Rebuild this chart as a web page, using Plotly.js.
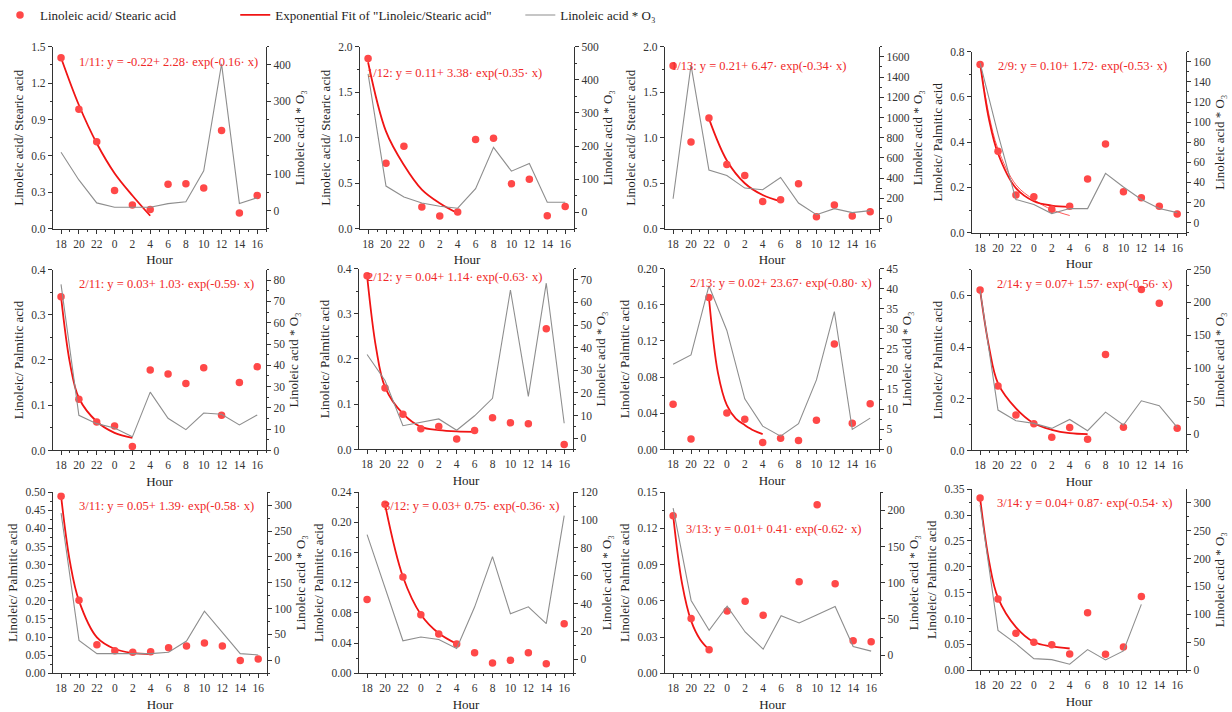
<!DOCTYPE html>
<html><head><meta charset="utf-8">
<script src="https://cdn.plot.ly/plotly-3.0.1.min.js"></script>
<style>html,body{margin:0;padding:0;background:#fff}#chart{width:1232px;height:712px}</style>
</head><body><div id="chart"></div>
<script>
// ---------------- DATA ----------------
const hours = ['18','20','22','0','2','4','6','8','10','12','14','16'];
const dates = ['1/11','1/12','1/13','2/9','2/11','2/12','2/13','2/14','3/11','3/12','3/13','3/14'];
const fitEquations = [
 '1/11: y = -0.22+ 2.28· exp(-0.16· x)',
 '1/12: y = 0.11+ 3.38· exp(-0.35· x)',
 '1/13: y = 0.21+ 6.47· exp(-0.34· x)',
 '2/9: y = 0.10+ 1.72· exp(-0.53· x)',
 '2/11: y = 0.03+ 1.03· exp(-0.59· x)',
 '2/12: y = 0.04+ 1.14· exp(-0.63· x)',
 '2/13: y = 0.02+ 23.67· exp(-0.80· x)',
 '2/14: y = 0.07+ 1.57· exp(-0.56· x)',
 '3/11: y = 0.05+ 1.39· exp(-0.58· x)',
 '3/12: y = 0.03+ 0.75· exp(-0.36· x)',
 '3/13: y = 0.01+ 0.41· exp(-0.62· x)',
 '3/14: y = 0.04+ 0.87· exp(-0.54· x)'
];
const leftTitles = ['Linoleic acid/ Stearic acid','Linoleic acid/ Stearic acid','Linoleic acid/ Stearic acid',
 'Linoleic/ Palmitic acid','Linoleic/ Palmitic acid','Linoleic/ Palmitic acid','Linoleic/ Palmitic acid',
 'Linoleic/ Palmitic acid','Linoleic/ Palmitic acid','Linoleic/ Palmitic acid','Linoleic/ Palmitic acid','Linoleic/ Palmitic acid'];
const rightTitle = 'Linoleic acid * O₃';
const xTitle = 'Hour';
const legendNames = ['Linoleic acid/ Stearic acid','Exponential Fit of "Linoleic/Stearic acid"','Linoleic acid * O₃'];

// ratio (left axis) and Linoleic acid * O3 (right axis), one value per hour
const ratio_0111 = [1.41,0.984,0.718,0.315,0.195,0.159,0.367,0.37,0.335,0.809,0.129,0.274];
const o3_0111    = [160,84,21,9,9,9,19,24,109,403,19,35];
const ratio_0112 = [1.87,0.72,0.907,0.238,0.139,0.183,0.98,0.995,0.494,0.545,0.143,0.245];
const o3_0112    = [418,79,46,28,18,12,71,196,124,147,30,30];
const ratio_0113 = [1.79,0.954,1.218,0.706,0.585,0.30,0.318,0.494,0.132,0.26,0.139,0.186];
const o3_0113    = [197,1518,480,427,302,286,407,154,39,99,59,79];
const ratio_0209 = [0.744,0.36,0.167,0.159,0.104,0.117,0.237,0.392,0.181,0.155,0.117,0.083];
const o3_0209    = [159,88,23,18,9,14,14,49,35.5,23,14,10];
const ratio_0211 = [0.34,0.1135,0.063,0.054,0.0088,0.178,0.169,0.148,0.183,0.078,0.15,0.185];
const o3_0211    = [78,16.5,12.6,10.6,6.4,27.4,15.1,9.8,17.6,17,12,16.7];
const ratio_0212 = [0.384,0.136,0.078,0.046,0.051,0.023,0.042,0.070,0.059,0.057,0.267,0.011];
const o3_0212    = [37,25.5,5.5,6.9,8.5,3.5,9.9,17.6,65.5,18.5,68.5,6.6];
const ratio_0213 = [0.0499,0.0117,0.168,0.0404,0.0334,0.0077,0.0125,0.0099,0.0323,0.1167,0.029,0.0506];
const o3_0213    = [21.2,23.5,40.7,29.6,12.6,5.8,3.3,6.4,17.3,34.3,5,7.8];
const ratio_0214 = [0.621,0.249,0.1375,0.103,0.051,0.0887,0.0437,0.371,0.09,0.623,0.569,0.086];
const o3_0214    = [218.7,36.4,20.2,16.2,8.6,22.2,5,33.3,13.6,50.5,43,10];
const ratio_0311 = [0.489,0.2015,0.0788,0.0623,0.0577,0.0595,0.0705,0.075,0.0833,0.075,0.0348,0.0394];
const o3_0311    = [284.6,38.5,12.8,12.8,12.8,12.8,15.4,37.3,95,53.3,12.8,10.3];
const ratio_0312 = [0.0976,0.2242,0.1275,0.0774,0.0519,0.0387,0.0273,0.0136,0.0171,0.0273,0.0127,0.0655];
const o3_0312    = [89.6,51.7,13.3,16,14.2,7.8,37.5,73.8,32.7,37.7,25.6,103.2];
const ratio_0313 = [0.1305,0.0453,0.0195,0.0516,0.0596,0.0481,null,0.0758,0.1396,0.0742,0.0269,0.0261];
const o3_0313    = [203,75.5,34.3,67.7,32,8.2,54.5,44.4,55.8,67.3,11.9,5.5];
const ratio_0314 = [0.3333,0.138,0.0713,0.054,0.0495,0.0315,0.111,0.0308,0.045,0.1426,null,null];
const o3_0314    = [296,71.4,47.6,20.8,19,10.7,36.9,18.5,34.5,117.9,null,null];

// exponential fit curves: position along the hour axis (index into hours) and value
const fitPos_0111 = [0,1,2,3,4,5];            const fit_0111 = [1.41,1.02,0.705,0.458,0.274,0.107];
const fitPos_0112 = [0,1,2,3,4,5];            const fit_0112 = [1.83,1.07,0.70,0.43,0.28,0.17];
const fitPos_0113 = [2,3,4,5,6];              const fit_0113 = [1.21,0.75,0.50,0.37,0.30];
const fitPos_0209 = [0,0.5,1,2,3,4,5];        const fit_0209 = [0.75,0.50,0.35,0.197,0.139,0.12,0.114];
const fitPos_0209b = [0,0.5,1,2,3,4,5];       const fit_0209b = [0.75,0.52,0.37,0.212,0.146,0.102,0.076];
const fitPos_0211 = [0,0.5,1,2,3,4];          const fit_0211 = [0.34,0.193,0.116,0.064,0.039,0.028];
const fitPos_0212 = [0,0.5,1,2,3,4,5,6];      const fit_0212 = [0.384,0.225,0.138,0.079,0.05,0.043,0.040,0.039];
const fitPos_0213 = [2,2.5,3,3.5,4,4.5,5];    const fit_0213 = [0.168,0.085,0.049,0.034,0.027,0.021,0.017];
const fitPos_0214 = [0,0.5,1,2,3,4,5,6];      const fit_0214 = [0.62,0.40,0.26,0.163,0.105,0.08,0.067,0.063];
const fitPos_0311 = [0,0.5,1,2,3,4,5];        const fit_0311 = [0.489,0.306,0.20,0.099,0.067,0.056,0.053];
const fitPos_0312 = [1,2,3,4,5];              const fit_0312 = [0.224,0.128,0.078,0.053,0.039];
const fitPos_0313 = [0,0.5,1,1.5,2];          const fit_0313 = [0.131,0.074,0.0434,0.028,0.0195];
const fitPos_0314 = [0,0.5,1,2,3,4,5];        const fit_0314 = [0.333,0.211,0.14,0.0835,0.0546,0.046,0.042];

// ---------------- PRESENTATION ----------------
const panels = [
 {r:ratio_0111,o:o3_0111,fx:fitPos_0111,fy:fit_0111},
 {r:ratio_0112,o:o3_0112,fx:fitPos_0112,fy:fit_0112},
 {r:ratio_0113,o:o3_0113,fx:fitPos_0113,fy:fit_0113},
 {r:ratio_0209,o:o3_0209,fx:fitPos_0209,fy:fit_0209,fx2:fitPos_0209b,fy2:fit_0209b},
 {r:ratio_0211,o:o3_0211,fx:fitPos_0211,fy:fit_0211},
 {r:ratio_0212,o:o3_0212,fx:fitPos_0212,fy:fit_0212},
 {r:ratio_0213,o:o3_0213,fx:fitPos_0213,fy:fit_0213},
 {r:ratio_0214,o:o3_0214,fx:fitPos_0214,fy:fit_0214},
 {r:ratio_0311,o:o3_0311,fx:fitPos_0311,fy:fit_0311},
 {r:ratio_0312,o:o3_0312,fx:fitPos_0312,fy:fit_0312},
 {r:ratio_0313,o:o3_0313,fx:fitPos_0313,fy:fit_0313},
 {r:ratio_0314,o:o3_0314,fx:fitPos_0314,fy:fit_0314}
];
const W = 1232, H = 712;
// plot boxes in px: [left, right, top, bottom]
const boxes = [[49,263,43,226],[357,572,43,226],[663,878,43,226],[971,1186,48,230],
 [49,263,267,449],[356,571,266,448],[663,878,266,448],[971,1186,267,449],
 [49,264,491,673],[356,571,491,673],[663,879,491,673],[971,1186,488,670]];
const leftAx = [
 {range:[0,1.5],dtick:0.3,minor:0.15,fmt:'.1f'},
 {range:[0,2.0],dtick:0.5,minor:0.25,fmt:'.1f'},
 {range:[0,2.0],dtick:0.5,minor:0.25,fmt:'.1f'},
 {range:[0,0.8],dtick:0.2,minor:0.1,fmt:'.1f'},
 {range:[0,0.4],dtick:0.1,minor:0.05,fmt:'.1f'},
 {range:[0,0.4],dtick:0.1,minor:0.05,fmt:'.1f'},
 {range:[0,0.2],dtick:0.04,minor:0.02,fmt:'.2f'},
 {range:[0,0.7],dtick:0.2,minor:0.1,fmt:'.1f'},
 {range:[0,0.5],dtick:0.05,minor:0.025,fmt:'.2f'},
 {range:[0,0.24],dtick:0.04,minor:0.02,fmt:'.2f'},
 {range:[0,0.15],dtick:0.03,minor:0.015,fmt:'.2f'},
 {range:[0,0.35],dtick:0.05,minor:0.025,fmt:'.2f'}
];
const rightAx = [
 {range:[-50,450],dtick:100,minor:50},
 {range:[-50,500],dtick:100,minor:50},
 {range:[-100,1700],dtick:200,minor:100},
 {range:[-10,170],dtick:20,minor:10},
 {range:[0,85],dtick:10,minor:5},
 {range:[-5,75],dtick:10,minor:5},
 {range:[0,45],dtick:5,minor:2.5},
 {range:[-25,250],dtick:50,minor:25},
 {range:[-25,325],dtick:50,minor:25},
 {range:[-10,120],dtick:20,minor:10},
 {range:[-25,225],dtick:50,minor:25},
 {range:[0,324],dtick:50,minor:25}
];
const annPos = [[165,58],[452,69],[757,62],[1082,62],[163,282],[452,275],[780,281],[1085,282],[163,505],[470,505],[773,528],[1085,502]];

const FONT = 'Liberation Serif';
const RED = 'rgb(240,20,20)';
const PT = '#ff4848';
const GREY = '#8e8e8e';
const AXC = '#333';
const idx = hours.map((h,i)=>i);
const tf = {family:FONT, size:11.5, color:'#333'};
const ttf = {family:FONT, size:13, color:'#222'};

const traces = [];
const legBase = {y:1+4/H, xanchor:'left', yanchor:'top', orientation:'h', font:{family:FONT,size:13,color:'#222'}, bgcolor:'rgba(0,0,0,0)'};
const layout = {
  width: W, height: H, margin:{l:0,r:0,t:0,b:0},
  paper_bgcolor:'#fff', plot_bgcolor:'rgba(0,0,0,0)',
  font:{family:FONT, size:11, color:'#333'},
  annotations: [],
  legend:Object.assign({x:-4/W}, legBase),
  legend2:Object.assign({x:232/W}, legBase),
  legend3:Object.assign({x:518/W}, legBase)
};

panels.forEach((p,i)=>{
  const n = i+1, rn = 12+n;
  const xk = n===1?'xaxis':'xaxis'+n, yk = n===1?'yaxis':'yaxis'+n, ryk = 'yaxis'+rn;
  const xr = n===1?'x':'x'+n, yr = n===1?'y':'y'+n, ryr = 'y'+rn;
  const b = boxes[i];
  const first = i===0;
  traces.push({type:'scatter', mode:'lines', x:idx, y:p.o, xaxis:xr, yaxis:ryr,
    line:{color:GREY, width:1.1}, name:legendNames[2], showlegend:first, legend:'legend3', connectgaps:false});
  if (p.fx2) traces.push({type:'scatter', mode:'lines', x:p.fx2, y:p.fy2, xaxis:xr, yaxis:yr,
    line:{color:'rgb(255,90,90)', width:1, shape:'spline'}, showlegend:false});
  traces.push({type:'scatter', mode:'lines', x:p.fx, y:p.fy, xaxis:xr, yaxis:yr,
    line:{color:RED, width:1.8, shape:'spline'}, name:legendNames[1], showlegend:first, legend:'legend2'});
  traces.push({type:'scatter', mode:'markers', x:idx, y:p.r, xaxis:xr, yaxis:yr,
    marker:{color:PT, size:7.5}, name:legendNames[0], showlegend:first, legend:'legend'});

  layout[xk] = {domain:[b[0]/W, b[1]/W], anchor:yr, range:[-0.46,11.5],
    tickmode:'array', tickvals:idx, ticktext:hours, ticks:'outside', ticklen:4, tickcolor:AXC,
    minor:{tickmode:'linear', tick0:0.5, dtick:1, ticks:'outside', ticklen:2, tickcolor:AXC},
    showline:true, linecolor:AXC, linewidth:1, showgrid:false, zeroline:false,
    tickfont:tf, title:{text:xTitle, font:ttf, standoff:6}};
  const L = leftAx[i];
  layout[yk] = {domain:[1-b[3]/H, 1-b[2]/H], anchor:xr, range:L.range, tickmode:'linear', tick0:0, dtick:L.dtick,
    tickformat:L.fmt, ticks:'outside', ticklen:4, tickcolor:AXC,
    minor:{tickmode:'linear', tick0:0, dtick:L.minor, ticks:'outside', ticklen:2, tickcolor:AXC},
    showline:true, linecolor:AXC, linewidth:1, showgrid:false, zeroline:false,
    tickfont:tf, title:{text:leftTitles[i], font:ttf, standoff:4}};
  const R = rightAx[i];
  layout[ryk] = {overlaying:yr, side:'right', anchor:xr, range:R.range, tickmode:'linear', tick0:0, dtick:R.dtick,
    ticks:'outside', ticklen:4, tickcolor:AXC,
    minor:{tickmode:'linear', tick0:0, dtick:R.minor, ticks:'outside', ticklen:2, tickcolor:AXC},
    showline:true, linecolor:AXC, linewidth:1, showgrid:false, zeroline:false,
    tickfont:tf, title:{text:rightTitle, font:ttf, standoff:4}};
  layout.annotations.push({xref:'paper', yref:'paper', x:annPos[i][0]/W, y:1-annPos[i][1]/H,
    xanchor:'center', yanchor:'middle', text:fitEquations[i], showarrow:false,
    font:{size:12.5, color:'rgb(240,40,40)', family:FONT}});
});

Plotly.newPlot('chart', traces, layout, {displayModeBar:false, staticPlot:true});
</script>
</body></html>
